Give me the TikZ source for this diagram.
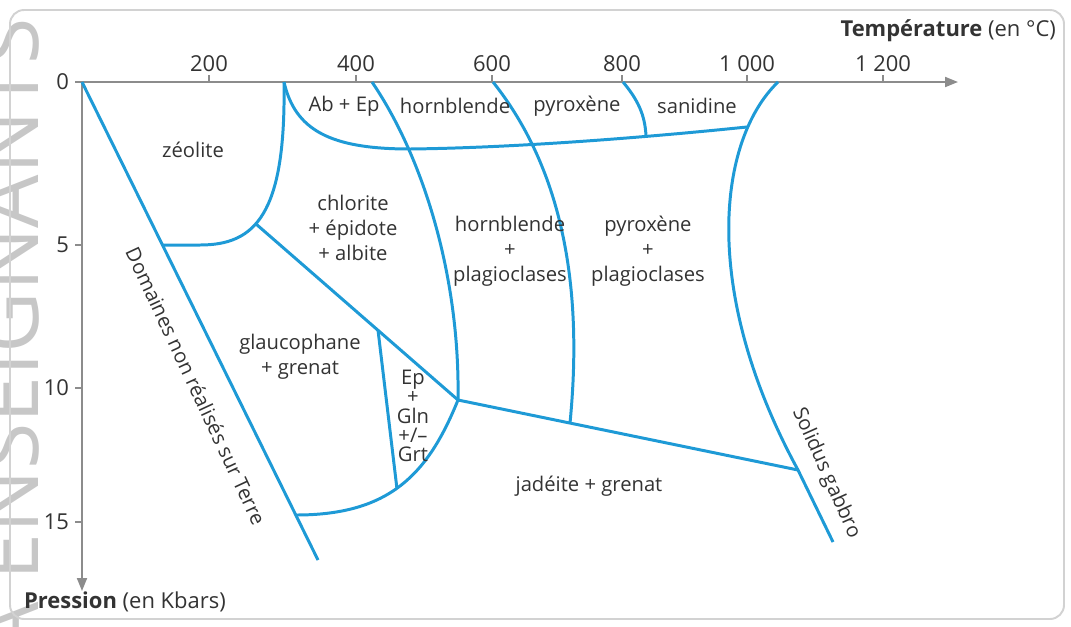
\documentclass[tikz,border=0pt]{standalone}
\usepackage{fontspec}
\setmainfont{Open Sans}
\usetikzlibrary{arrows.meta, positioning}
\definecolor{phaseblue}{RGB}{30,154,214}
\definecolor{axisgray}{RGB}{140,140,140}
\definecolor{framegray}{RGB}{210,210,210}
\definecolor{textgray}{RGB}{51,51,51}
\tikzset{
  boundary/.style={
    draw=phaseblue, line width=1.7pt, line join=round
  },
  axis/.style={
    draw=axisgray, line width=1.1pt,
    -{Triangle[length=0.26cm, width=0.2cm]}
  },
  tickmark/.style={draw=axisgray, line width=0.6pt},
  ticklabel/.style={
    text=textgray, inner sep=1pt,
    font=\fontsize{12.5}{14}\selectfont
  },
  phase/.style={
    text=textgray, align=center, inner sep=1pt,
    font=\fontsize{11.5}{14.2}\selectfont
  },
  axistitle/.style={
    text=textgray, inner sep=1pt,
    font=\fontsize{12.5}{14}\selectfont
  },
  watermark/.style={
    text=black!22, inner sep=0pt,
    font=\fontsize{48}{48}\selectfont
  }
}

\begin{document}
\begin{tikzpicture}[x=0.02cm, y=-0.02cm]

\useasboundingbox (0,0) rectangle (1071,626);

% Watermark, cut by the page edge
\begin{scope}
  \clip (0,0) rectangle (1071,626);
  \node[watermark, rotate=90, anchor=base east] (wm) at (38,18) {A ENSEIGNANTS};
\end{scope}

% Frame
\draw[framegray, line width=1.1pt, rounded corners=8pt] (10,10) rectangle (1064,619);

% Axes
\coordinate (O) at (82,82);
\coordinate (xend) at (958,82);
\coordinate (yend) at (82,591);
\draw[axis] (O) -- (xend);
\draw[axis] (O) -- (yend);

\foreach \x/\t [count=\i] in {209/200, 356/400, 492/600, 622/800, 747/{1 000}, 883/{1 200}}{
  \draw[tickmark] (\x,82) -- (\x,75);
  \node[ticklabel] (xl\i) at (\x,64) {\t};
}
\foreach \y/\t [count=\i] in {82/0, 245/5, 388/10, 522/15}{
  \draw[tickmark] (82,\y) -- (75,\y);
  \node[ticklabel, anchor=east] (yl\i) at (71,\y) {\t};
}

\node[axistitle, anchor=east] (ttitle) at (1058,31) {\textbf{Température} (en °C)};
\node[axistitle, anchor=west] (ptitle) at (22,602) {\textbf{Pression} (en Kbars)};

% Junction points
\coordinate (dend) at (318,560);
\coordinate (dz) at (163,245);
\coordinate (dg) at (296,515);
\coordinate (ztop) at (284,82);
\coordinate (zj) at (256,224);
\coordinate (gj) at (378,330);
\coordinate (tp) at (458,400);
\coordinate (ej) at (397,489);
\coordinate (hbtop) at (372,82);
\coordinate (hx) at (410,149);
\coordinate (pxtop) at (493,82);
\coordinate (vj) at (570,423);
\coordinate (sntop) at (623,82);
\coordinate (snj) at (646,136);
\coordinate (soltop) at (778,82);
\coordinate (solj) at (747,127);
\coordinate (sols) at (798,470);
\coordinate (solend) at (833,542);

% Boundaries
\draw[boundary] (O) -- (dend);
\draw[boundary] (ztop) .. controls (286,215) and (255,245) .. (200,245) -- (dz);
\draw[boundary] (zj) -- (tp);
\draw[boundary] (gj) -- (ej);
\draw[boundary] (tp) .. controls (428,474) and (390,515) .. (dg);
\draw[boundary] (ztop) .. controls (295,130) and (330,149) .. (hx)
  .. controls (500,148) and (620,140) .. (solj);
\draw[boundary] (hbtop) .. controls (425,160) and (460,280) .. (tp);
\draw[boundary] (pxtop) .. controls (555,160) and (585,270) .. (vj);
\draw[boundary] (sntop) .. controls (638,100) and (645,115) .. (snj);
\draw[boundary] (soltop) .. controls (718,140) and (700,290) .. (sols) -- (solend);
\draw[boundary] (tp) -- (sols);

% Mineral fields
\node[phase] (zeo) at (193,150) {zéolite};
\node[phase] (abep) at (344,106) {Ab + Ep};
\node[phase] (hbl) at (455,106) {hornblende};
\node[phase] (pyx) at (577,106) {pyroxène};
\node[phase] (san) at (697,106) {sanidine};
\node[phase] (chl) at (353,228) {chlorite\\+ épidote\\+ albite};
\node[phase] (hbpl) at (510,251) {hornblende\\+\\plagioclases};
\node[phase] (pxpl) at (648,251) {pyroxène\\+\\plagioclases};
\node[phase] (glc) at (300,357) {glaucophane\\+ grenat};
\node[phase, font=\fontsize{11.5}{11}\selectfont] (epg) at (413,416) {Ep\\+\\Gln\\+/--\\Grt};
\node[phase] (jad) at (589,486) {jadéite + grenat};

% Labels along lines
\node[phase, rotate=-65] (dom) at (196,386) {Domaines non réalisés sur Terre};
\node[phase, rotate=-66] (sol) at (826,473) {Solidus gabbro};

\end{tikzpicture}
\end{document}
